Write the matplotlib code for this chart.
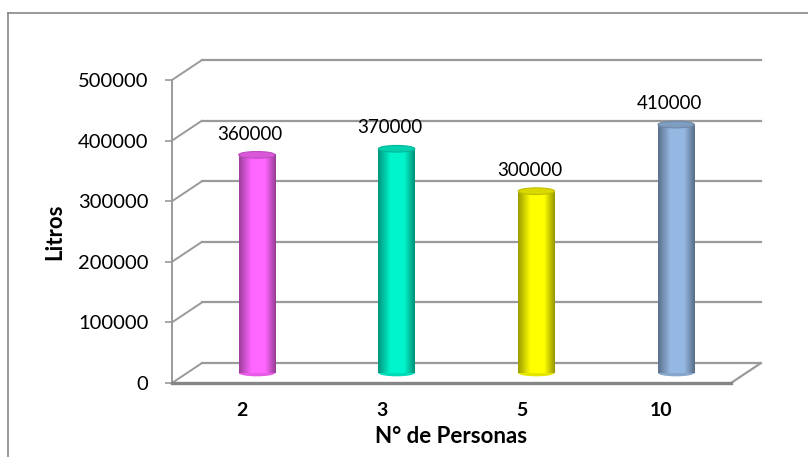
import matplotlib.pyplot as plt
import matplotlib.transforms as mtransforms
from matplotlib.patches import Ellipse, ConnectionPatch
from matplotlib.lines import Line2D
import numpy as np

plt.rcParams["font.family"] = ["Lato", "DejaVu Sans"]

# data
categories = ["2", "3", "5", "10"]
litros = [360000, 370000, 300000, 410000]
bar_colors = ["#FF66FF", "#00F5CC", "#FFFF00", "#95B8E3"]
y_ticks = [0, 100000, 200000, 300000, 400000, 500000]

GRID = "#9a9a9a"

fig = plt.figure(figsize=(8.08, 4.57), dpi=100)
ax = fig.add_axes([172 / 808, 74 / 457, 559 / 808, 303 / 457])
ax.set_xlim(-0.5, len(categories) - 0.5)
ax.set_ylim(0, 500000)

# 3d look: back wall is shifted 30 px right, 20 px up; bars stand halfway
back = ax.transData + mtransforms.ScaledTranslation(0.30, 0.20, fig.dpi_scale_trans)
mid = ax.transData + mtransforms.ScaledTranslation(0.15, 0.10, fig.dpi_scale_trans)

x0, x1 = ax.get_xlim()
for t in y_ticks:
    ax.plot([x0, x1], [t, t], color=GRID, lw=1.6, transform=back,
            clip_on=False, zorder=1)
    ax.add_artist(ConnectionPatch((x0, t), (x0, t), coordsA=ax.transData,
                                  coordsB=back, color=GRID, lw=1.4, zorder=1))
# floor right edge
ax.add_artist(ConnectionPatch((x1, 0), (x1, 0), coordsA=ax.transData,
                              coordsB=back, color=GRID, lw=1.6, zorder=1))

# cylinders
w = 0.26
eh = 11000
shade = np.concatenate([np.linspace(0.62, 1.0, 14), np.ones(14),
                        np.linspace(1.0, 0.6, 12)])
for i, (v, c) in enumerate(zip(litros, bar_colors)):
    rgb = np.array(plt.matplotlib.colors.to_rgb(c))
    grad = (shade[:, None] * rgb[None, :])[None, :, :]
    ax.add_patch(Ellipse((i, 0), w, eh, facecolor=rgb * 0.9, edgecolor="none",
                         transform=mid, zorder=2, clip_on=False))
    ax.imshow(grad, extent=(i - w / 2, i + w / 2, 0, v), aspect="auto",
              transform=mid, zorder=3, interpolation="bilinear", clip_on=False)
    ax.add_patch(Ellipse((i, v), w, eh, facecolor=rgb * 0.85,
                         edgecolor=rgb * 0.75, lw=0.8, transform=mid,
                         zorder=4, clip_on=False))
    ax.annotate(str(v), (i, v), xycoords=mid, xytext=(-5, 15),
                textcoords="offset points", ha="center", va="center",
                fontsize=13.5, color="black", zorder=5)

ax.set_xlim(-0.5, len(categories) - 0.5)
ax.set_ylim(0, 500000)

ax.set_xticks(range(len(categories)))
ax.set_xticklabels(categories, fontsize=14, fontweight="bold")
ax.set_yticks(y_ticks)
ax.set_yticklabels([str(t) for t in y_ticks], fontsize=14.5)
ax.tick_params(axis="x", length=0, pad=14)
ax.tick_params(axis="y", length=5, width=1.2, color=GRID, pad=12)

for s in ["top", "right"]:
    ax.spines[s].set_visible(False)
ax.spines["left"].set_color(GRID)
ax.spines["left"].set_linewidth(1.4)
ax.spines["bottom"].set_color("#858585")
ax.spines["bottom"].set_linewidth(2.4)
ax.set_facecolor("none")

ax.set_xlabel("N° de Personas", fontsize=16, fontweight="bold", va="center")
ax.xaxis.set_label_coords(0.5, -0.178)
ax.set_ylabel("Litros", fontsize=16, fontweight="bold", va="center")
ax.yaxis.set_label_coords(-0.209, 0.5)

# outer chart border (top and left only visible)
fig.add_artist(Line2D([8 / 808, 1.0], [1 - 13 / 457] * 2, color="#868686",
                      lw=1.2, transform=fig.transFigure))
fig.add_artist(Line2D([8 / 808] * 2, [0, 1 - 13 / 457], color="#868686",
                      lw=1.2, transform=fig.transFigure))

plt.savefig("out.png", dpi=100)
